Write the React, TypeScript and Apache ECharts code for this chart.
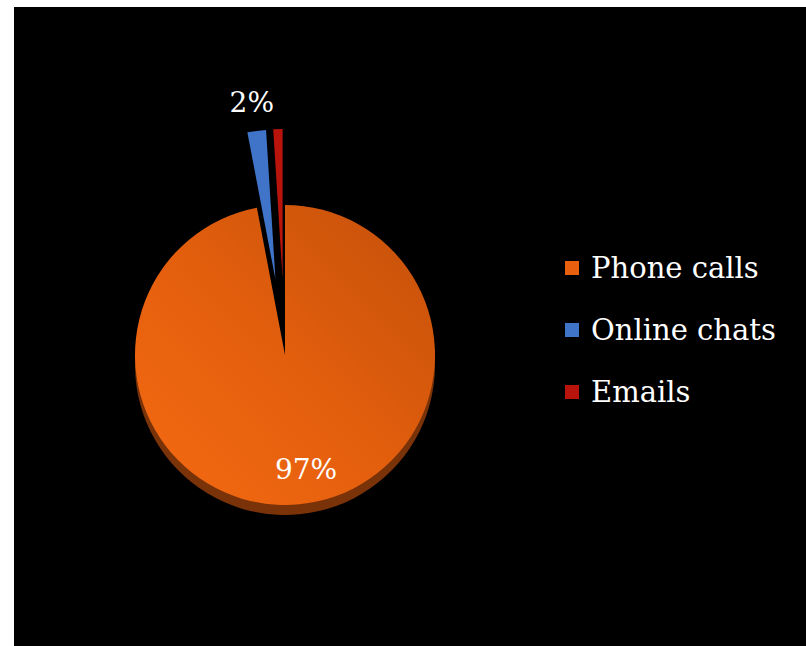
import React, { useEffect, useRef } from "react";
import * as echarts from "echarts";

const categories = ["Phone calls", "Online chats", "Emails"];
const values = [97, 2, 1];
const colors = ["#E8600E", "#3F74C8", "#B8140C"];
const rimColors = ["#7A3208", "rgba(0,0,0,0)", "rgba(0,0,0,0)"];

export default function App() {
  const ref = useRef<HTMLDivElement>(null);
  useEffect(() => {
    if (!ref.current) return;
    const chart = echarts.init(ref.current, undefined, { renderer: "svg" });
    const font = "'DejaVu Serif', 'Liberation Serif', serif";
    const front = categories.map((name, i) => ({
      name,
      value: values[i],
      selected: i > 0,
      itemStyle: {
        color:
          i === 0
            ? new echarts.graphic.LinearGradient(0, 1, 1, 0, [
                { offset: 0, color: "#F66A12" },
                { offset: 0.5, color: "#E25E0D" },
                { offset: 1, color: "#C3500A" },
              ])
            : colors[i],
      },
      label: { show: i < 2 },
    }));
    const back = categories.map((name, i) => ({
      name,
      value: values[i],
      itemStyle: { color: rimColors[i] },
    }));
    chart.setOption({
      animation: false,
      backgroundColor: "#000000",
      color: colors,
      legend: {
        orient: "vertical",
        left: 546,
        top: 240,
        itemWidth: 14,
        itemHeight: 14,
        itemGap: 30,
        icon: "rect",
        data: categories.map((name, i) => ({ name, itemStyle: { color: colors[i] } })),
        textStyle: {
          color: "#FFFFFF",
          fontFamily: font,
          fontSize: 29,
          lineHeight: 32,
          padding: [0, 0, 0, 7],
        },
      },
      series: [
        {
          type: "pie",
          center: [271, 348],
          radius: 150,
          startAngle: 90,
          selectedMode: "multiple",
          selectedOffset: 76,
          data: front,
          z: 2,
          label: {
            show: true,
            position: "outside",
            formatter: "{d}%",
            color: "#FFFFFF",
            fontFamily: font,
            fontSize: 28,
          },
          labelLine: { show: false, length: 29, length2: 0 },
          labelLayout: (params: any) => {
            if (params.dataIndex === 0) {
              return { x: 292, y: 462, align: "center", verticalAlign: "middle" };
            }
            if (params.dataIndex === 1) {
              return { dx: 26, dy: 0 };
            }
            return {};
          },
        },
        {
          type: "pie",
          silent: true,
          center: [271, 358],
          radius: 150,
          startAngle: 90,
          data: back,
          label: { show: false },
          labelLine: { show: false },
          z: 1,
        },
      ],
    });
    return () => chart.dispose();
  }, []);
  return (
    <div
      ref={ref}
      style={{
        position: "fixed",
        left: 14,
        top: 7,
        width: 792,
        height: 639,
        background: "#000",
      }}
    />
  );
}
